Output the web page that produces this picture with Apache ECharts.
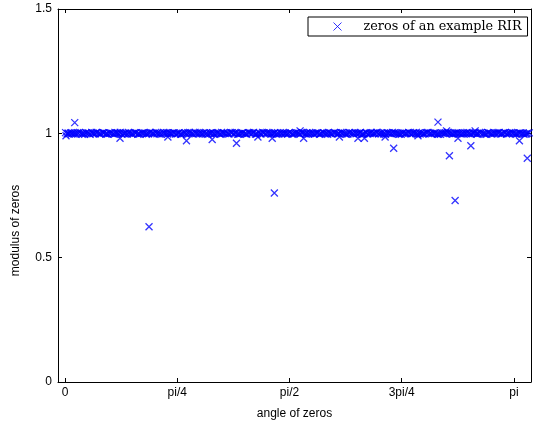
<!DOCTYPE html>
<html>
<head>
<meta charset="utf-8">
<script src="https://cdn.jsdelivr.net/npm/echarts@6/dist/echarts.min.js"></script>
<style>
  html, body { margin: 0; padding: 0; background: #fff; }
  #chart { width: 536px; height: 425px; }
</style>
</head>
<body>
<div id="chart"></div>
<script>
// zeros lying on (or very near) the unit circle, three interleaved runs
const bandAngles = [
  0.004, 0.027, 0.051, 0.074, 0.101, 0.126, 0.149, 0.176, 0.199, 0.224,
  0.251, 0.273, 0.298, 0.326, 0.349, 0.372, 0.399, 0.424, 0.448, 0.475,
  0.497, 0.523, 0.549, 0.571, 0.598, 0.624, 0.646, 0.672, 0.699, 0.721,
  0.747, 0.773, 0.797, 0.822, 0.848, 0.871, 0.897, 0.923, 0.946, 0.972,
  0.998, 1.021, 1.047, 1.072, 1.095, 1.121, 1.147, 1.171, 1.196, 1.222,
  1.245, 1.271, 1.296, 1.320, 1.345, 1.371, 1.394, 1.420, 1.446, 1.469,
  1.495, 1.521, 1.544, 1.570, 1.595, 1.619, 1.644, 1.670, 1.693, 1.719,
  1.745, 1.768, 1.794, 1.819, 1.843, 1.868, 1.894, 1.917, 1.943, 1.969,
  1.992, 2.018, 2.043, 2.067, 2.092, 2.118, 2.141, 2.167, 2.193, 2.216,
  2.242, 2.267, 2.291, 2.316, 2.342, 2.365, 2.391, 2.417, 2.440, 2.466,
  2.491, 2.515, 2.540, 2.566, 2.589, 2.615, 2.641, 2.664, 2.690, 2.715,
  2.739, 2.764, 2.790, 2.813, 2.839, 2.865, 2.888, 2.914, 2.939, 2.963,
  2.988, 3.014, 3.037, 3.063, 3.089, 3.112, 3.138, 3.163, 3.187, 3.212,
  3.236
];
const bandModuli = [
  1.003, 0.998, 1.001, 0.997, 1.004, 0.999, 1.002, 0.996, 1.000, 1.003,
  0.998, 1.002, 0.997, 1.001, 1.004, 0.999, 0.996, 1.002, 1.000, 0.998,
  1.003, 0.997, 1.001, 0.999, 1.004, 0.998, 1.002, 0.996, 1.001, 1.003,
  0.999, 0.997, 1.002, 1.000, 0.998, 1.004, 0.997, 1.001, 0.999, 1.003,
  0.996, 1.002, 0.998, 1.001, 1.004, 0.999, 0.997, 1.003, 1.000, 0.998,
  1.002, 0.996, 1.001, 1.004, 0.999, 0.997, 1.002, 1.000, 0.998, 1.003,
  0.997, 1.001, 0.999, 1.004, 0.998, 1.002, 0.996, 1.001, 1.003, 0.999,
  0.997, 1.002, 1.000, 0.998, 1.004, 0.997, 1.001, 0.999, 1.003, 0.996,
  1.002, 0.998, 1.001, 1.004, 0.999, 0.997, 1.003, 1.000, 0.998, 1.002,
  0.996, 1.001, 1.004, 0.999, 0.997, 1.002, 1.000, 0.998, 1.003, 0.997,
  1.001, 0.999, 1.004, 0.998, 1.002, 0.996, 1.001, 1.003, 0.999, 0.997,
  1.002, 1.000, 0.998, 1.004, 0.997, 1.001, 0.999, 1.003, 0.996, 1.002,
  0.998, 1.001, 1.004, 0.999, 0.997, 1.003, 1.000, 0.998, 1.002, 0.996,
  1.001
];
const bandAngles2 = [
  0.016, 0.039, 0.063, 0.088, 0.113, 0.138, 0.162, 0.187, 0.212, 0.237,
  0.262, 0.286, 0.311, 0.337, 0.361, 0.386, 0.411, 0.436, 0.461, 0.486,
  0.510, 0.536, 0.560, 0.585, 0.611, 0.635, 0.659, 0.686, 0.710, 0.734,
  0.760, 0.785, 0.809, 0.835, 0.859, 0.884, 0.910, 0.934, 0.959, 0.985,
  1.009, 1.034, 1.060, 1.083, 1.108, 1.134, 1.159, 1.183, 1.209, 1.233,
  1.258, 1.283, 1.308, 1.333, 1.358, 1.382, 1.407, 1.433, 1.457, 1.482,
  1.508, 1.532, 1.557, 1.582, 1.607, 1.631, 1.657, 1.681, 1.706, 1.732,
  1.756, 1.781, 1.806, 1.831, 1.855, 1.881, 1.905, 1.930, 1.956, 1.980,
  2.005, 2.030, 2.055, 2.079, 2.105, 2.129, 2.154, 2.180, 2.204, 2.229,
  2.254, 2.279, 2.303, 2.329, 2.353, 2.378, 2.404, 2.428, 2.453, 2.478,
  2.503, 2.527, 2.553, 2.577, 2.602, 2.628, 2.652, 2.677, 2.702, 2.727,
  2.751, 2.777, 2.801, 2.826, 2.852, 2.876, 2.901, 2.926, 2.951, 2.975,
  3.001, 3.025, 3.050, 3.076, 3.100, 3.125, 3.150, 3.175, 3.199, 3.224,
  3.249
];
const bandModuli2 = [
  0.999, 1.002, 0.997, 1.003, 1.000, 0.996, 1.002, 1.004, 0.998, 1.001,
  1.003, 0.997, 1.000, 0.998, 1.002, 1.004, 0.999, 0.997, 1.001, 1.003,
  0.996, 1.000, 1.002, 0.998, 1.001, 1.004, 0.997, 0.999, 1.003, 1.000,
  1.002, 0.998, 0.996, 1.001, 1.003, 0.999, 1.004, 0.998, 1.000, 0.997,
  1.001, 1.003, 0.999, 0.997, 1.002, 1.000, 1.004, 0.998, 0.996, 1.001,
  0.999, 1.003, 1.000, 0.997, 1.002, 1.004, 0.998, 1.001, 0.999, 0.996,
  1.003, 1.000, 0.997, 1.002, 0.999, 1.001, 1.004, 0.998, 0.997, 1.002,
  1.000, 0.996, 1.003, 1.001, 0.999, 1.002, 0.998, 1.004, 1.000, 0.997,
  1.001, 1.003, 0.999, 0.996, 1.002, 1.000, 0.998, 1.004, 1.001, 0.997,
  1.003, 0.999, 1.002, 1.000, 0.996, 1.001, 1.004, 0.998, 0.999, 1.002,
  0.997, 1.003, 1.000, 1.001, 0.998, 0.996, 1.002, 1.004, 0.999, 1.000,
  1.003, 0.997, 1.001, 0.999, 1.002, 0.998, 1.004, 1.000, 0.996, 1.001,
  0.999, 1.003, 0.997, 1.002, 1.000, 1.004, 0.998, 1.001, 0.999, 0.997,
  1.002
];
const bandAngles3 = [
  0.023, 0.046, 0.070, 0.093, 0.120, 0.145, 0.168, 0.195, 0.218, 0.243,
  0.270, 0.292, 0.317, 0.345, 0.368, 0.391, 0.418, 0.443, 0.467, 0.494,
  0.516, 0.542, 0.568, 0.590, 0.617, 0.643, 0.665, 0.691, 0.718, 0.740,
  0.766, 0.792, 0.816, 0.841, 0.867, 0.890, 0.916, 0.942, 0.965, 0.991,
  1.017, 1.040, 1.066, 1.091, 1.114, 1.140, 1.166, 1.190, 1.215, 1.241,
  1.264, 1.290, 1.315, 1.339, 1.364, 1.390, 1.413, 1.439, 1.465, 1.488,
  1.514, 1.540, 1.563, 1.589, 1.614, 1.638, 1.663, 1.689, 1.712, 1.738,
  1.764, 1.787, 1.813, 1.838, 1.862, 1.887, 1.913, 1.936, 1.962, 1.988,
  2.011, 2.037, 2.062, 2.086, 2.111, 2.137, 2.160, 2.186, 2.212, 2.235,
  2.261, 2.286, 2.310, 2.335, 2.361, 2.384, 2.410, 2.436, 2.459, 2.485,
  2.510, 2.534, 2.559, 2.585, 2.608, 2.634, 2.660, 2.683, 2.709, 2.734,
  2.758, 2.783, 2.809, 2.832, 2.858, 2.884, 2.907, 2.933, 2.958, 2.982,
  3.007, 3.033, 3.056, 3.082, 3.108, 3.131, 3.157, 3.182, 3.206, 3.231
];
const bandModuli3 = [
  1.001, 0.997, 1.003, 0.999, 0.996, 1.002, 1.000, 0.998, 1.004, 0.997,
  1.002, 0.999, 1.001, 0.996, 1.003, 1.000, 0.998, 1.004, 0.997, 1.001,
  0.999, 1.002, 0.996, 1.003, 1.000, 0.998, 1.001, 1.004, 0.997, 0.999,
  1.002, 1.000, 0.996, 1.003, 0.998, 1.001, 0.999, 1.004, 0.997, 1.002,
  1.000, 0.998, 1.003, 0.996, 1.001, 0.999, 1.002, 1.004, 0.997, 1.000,
  0.998, 1.003, 1.001, 0.996, 0.999, 1.002, 1.004, 0.997, 1.000, 1.003,
  0.998, 1.001, 0.999, 0.996, 1.002, 1.000, 1.003, 0.997, 1.004, 0.999,
  1.001, 0.998, 1.002, 0.996, 1.000, 1.003, 0.999, 1.001, 0.997, 1.004,
  1.002, 0.998, 1.000, 0.996, 1.003, 0.999, 1.001, 1.004, 0.997, 1.002,
  1.000, 0.998, 1.003, 0.996, 1.001, 0.999, 1.002, 1.000, 1.004, 0.997,
  0.998, 1.003, 1.001, 0.999, 0.996, 1.002, 1.000, 1.004, 0.997, 1.001,
  0.999, 1.002, 0.998, 1.003, 1.000, 0.996, 1.001, 0.999, 1.004, 0.997,
  1.002, 1.000, 0.998, 1.003, 0.999, 1.001, 0.996, 1.002, 1.000, 0.998
];
// zeros visibly off the unit circle
const outlierAngles = [
  0.007, 0.068, 0.385, 0.588, 0.720, 0.850, 1.030, 1.200, 1.350, 1.450,
  1.465, 1.645, 1.670, 1.920, 2.050, 2.095, 2.240, 2.300, 2.470, 2.610,
  2.670, 2.690, 2.730, 2.750, 2.840, 2.870, 3.180, 3.235
];
const outlierModuli = [
  0.990, 1.043, 0.980, 0.624, 0.985, 0.970, 0.975, 0.960, 0.985, 0.980,
  0.760, 1.010, 0.980, 0.985, 0.980, 0.980, 0.985, 0.940, 0.990, 1.045,
  1.010, 0.910, 0.730, 0.980, 0.950, 1.010, 0.970, 0.900
];

const xTickValues = [0, Math.PI / 4, Math.PI / 2, 3 * Math.PI / 4, Math.PI];
const xTickLabels = ['0', 'pi/4', 'pi/2', '3pi/4', 'pi'];
const seriesName = 'zeros of an example RIR';

const pair = (angles, moduli) => angles.map((a, i) => [a, moduli[i]]);
const points = pair(bandAngles, bandModuli)
  .concat(pair(bandAngles2, bandModuli2))
  .concat(pair(bandAngles3, bandModuli3))
  .concat(pair(outlierAngles, outlierModuli));

const cross = 'path://M0,0L10,10M0,10L10,0';
const font = 'Liberation Sans, Arial, sans-serif';

const xFmt = (v) => {
  const i = xTickValues.findIndex((t) => Math.abs(t - v) < 1e-6);
  return i >= 0 ? xTickLabels[i] : '';
};

const boxAxis = {
  splitLine: { show: false },
  axisLine: { show: true, onZero: false, lineStyle: { color: '#000', width: 1 } },
};

const option = {
  animation: false,
  backgroundColor: '#fff',
  grid: { left: 58, right: 5, top: 9, bottom: 40 },
  legend: {
    data: [{ name: seriesName, icon: cross }],
    left: 308,
    top: 17,
    padding: [3, 6, 3, 25],
    itemWidth: 8,
    itemHeight: 8,
    borderColor: '#000',
    borderWidth: 1,
    backgroundColor: '#fff',
    selectedMode: false,
    itemStyle: { color: 'transparent', borderColor: '#0000ff', borderWidth: 1 },
    formatter: (n) => '{g|}' + n,
    textStyle: {
      fontFamily: 'DejaVu Serif, serif',
      fontSize: 12.8,
      color: '#000',
      rich: { g: { width: 17 } },
    },
  },
  xAxis: [
    {
      ...boxAxis,
      type: 'value',
      position: 'bottom',
      min: -0.049,
      max: 3.261,
      axisTick: { show: true, inside: true, length: 4, customValues: xTickValues, lineStyle: { color: '#000' } },
      axisLabel: { customValues: xTickValues, formatter: xFmt, color: '#000', fontSize: 12, fontFamily: font, margin: 5 },
      name: 'angle of zeros',
      nameLocation: 'middle',
      nameGap: 26,
      nameTextStyle: { color: '#000', fontSize: 12, fontFamily: font },
    },
    {
      ...boxAxis,
      type: 'value',
      position: 'top',
      min: -0.049,
      max: 3.261,
      axisTick: { show: true, inside: true, length: 4, customValues: xTickValues, lineStyle: { color: '#000' } },
      axisLabel: { show: false },
    },
  ],
  yAxis: [
    {
      ...boxAxis,
      type: 'value',
      position: 'left',
      min: 0,
      max: 1.5,
      interval: 0.5,
      axisTick: { show: true, inside: true, length: 4, lineStyle: { color: '#000' } },
      axisLabel: { color: '#000', fontSize: 12, fontFamily: font, margin: 6 },
      name: 'modulus of zeros',
      nameLocation: 'middle',
      nameRotate: 90,
      nameGap: 36,
      nameTextStyle: { color: '#000', fontSize: 12, fontFamily: font, padding: [0, 70, 0, 0] },
    },
    {
      ...boxAxis,
      type: 'value',
      position: 'right',
      min: 0,
      max: 1.5,
      interval: 0.5,
      axisTick: { show: true, inside: true, length: 4, lineStyle: { color: '#000' } },
      axisLabel: { show: false },
    },
  ],
  series: [
    {
      name: seriesName,
      type: 'scatter',
      xAxisIndex: 0,
      yAxisIndex: 0,
      symbol: cross,
      symbolSize: 7,
      itemStyle: { color: 'transparent', borderColor: '#0000ff', borderWidth: 1.3 },
      emphasis: { disabled: true },
      data: points,
    },
  ],
};

const chart = echarts.init(document.getElementById('chart'));
chart.setOption(option);
</script>
</body>
</html>
